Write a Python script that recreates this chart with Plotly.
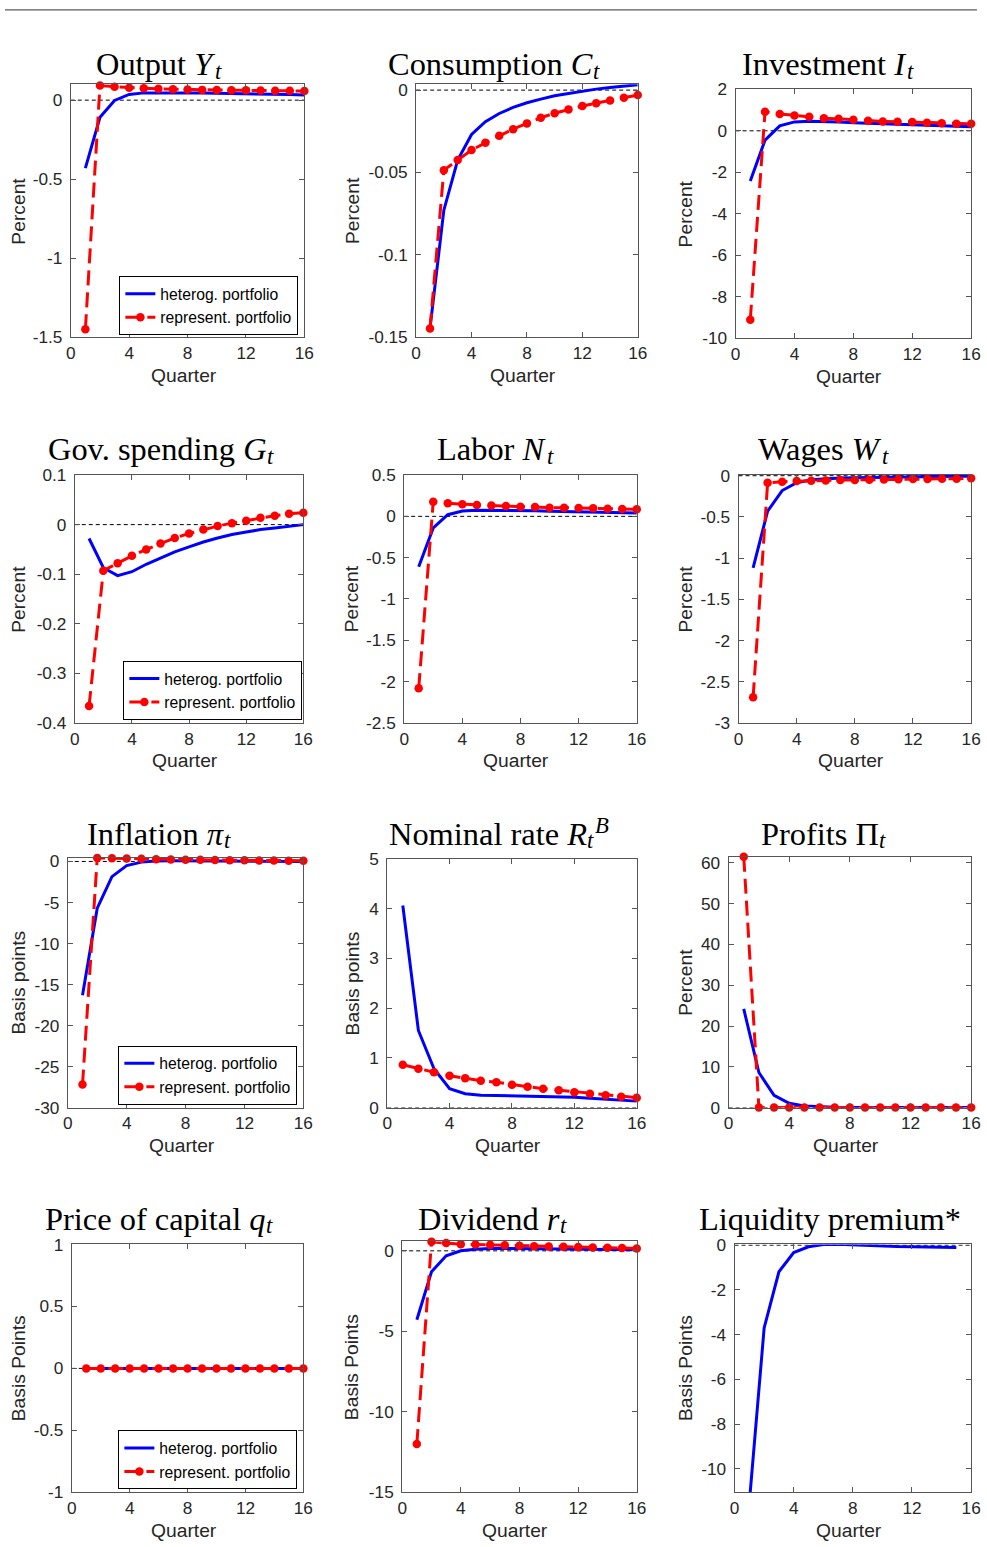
import plotly.graph_objects as go

W, H = 987, 1547
# calibration of the photographing step (observed = S * page + OFF)
SX, OX = 0.9866, 4.1
SY, OY = 0.9878, 8.6
FS = 1 / SX  # font scale compensation

quarters = list(range(1, 17))
quarters_liq = list(range(1, 16))
xticks = [0, 4, 8, 12, 16]

# ---- data ----
output_het = [-0.43, -0.108, -0.002, 0.036, 0.046, 0.047, 0.047, 0.046, 0.045, 0.044, 0.043, 0.041, 0.040, 0.038, 0.036, 0.033]
output_rep = [-1.45, 0.093, 0.085, 0.079, 0.075, 0.072, 0.069, 0.067, 0.065, 0.064, 0.063, 0.062, 0.061, 0.060, 0.059, 0.058]

cons_het = [-0.1447, -0.0729, -0.0425, -0.0269, -0.0192, -0.0142, -0.0105, -0.0077, -0.0055, -0.0034, -0.0020, -0.0006, 0.0006, 0.0016, 0.0024, 0.0033]
cons_rep = [-0.1447, -0.0486, -0.0425, -0.0364, -0.0320, -0.0277, -0.0237, -0.0202, -0.0168, -0.0140, -0.0117, -0.0097, -0.0079, -0.0063, -0.0047, -0.0030]

inv_het = [-2.42, -0.45, 0.24, 0.43, 0.46, 0.45, 0.42, 0.39, 0.36, 0.33, 0.30, 0.28, 0.26, 0.24, 0.22, 0.20]
inv_rep = [-9.11, 0.92, 0.81, 0.74, 0.68, 0.61, 0.58, 0.53, 0.48, 0.45, 0.44, 0.42, 0.39, 0.37, 0.34, 0.34]

gov_het = [-0.028, -0.087, -0.103, -0.095, -0.080, -0.067, -0.055, -0.045, -0.035, -0.027, -0.020, -0.015, -0.010, -0.007, -0.003, 0.000]
gov_rep = [-0.366, -0.093, -0.078, -0.063, -0.050, -0.038, -0.027, -0.018, -0.010, -0.003, 0.003, 0.008, 0.014, 0.018, 0.022, 0.024]

labor_het = [-0.61, -0.14, 0.02, 0.065, 0.075, 0.075, 0.073, 0.070, 0.067, 0.063, 0.060, 0.056, 0.052, 0.048, 0.044, 0.040]
labor_rep = [-2.08, 0.178, 0.158, 0.146, 0.137, 0.130, 0.125, 0.117, 0.113, 0.105, 0.105, 0.100, 0.097, 0.093, 0.089, 0.085]

wage_het = [-1.12, -0.43, -0.18, -0.085, -0.050, -0.036, -0.028, -0.024, -0.020, -0.017, -0.014, -0.012, -0.010, -0.008, -0.006, -0.005]
wage_rep = [-2.69, -0.085, -0.073, -0.065, -0.060, -0.057, -0.053, -0.052, -0.049, -0.045, -0.044, -0.041, -0.040, -0.037, -0.036, -0.030]

infl_het = [-16.3, -5.7, -1.85, -0.5, -0.08, 0.05, 0.08, 0.08, 0.07, 0.06, 0.05, 0.04, 0.03, 0.02, 0.01, 0.0]
infl_rep = [-27.2, 0.42, 0.40, 0.36, 0.32, 0.28, 0.25, 0.22, 0.20, 0.18, 0.16, 0.14, 0.13, 0.12, 0.10, 0.09]

rate_het = [4.06, 1.55, 0.78, 0.38, 0.28, 0.25, 0.245, 0.24, 0.235, 0.23, 0.22, 0.21, 0.19, 0.17, 0.15, 0.13]
rate_rep = [0.86, 0.78, 0.71, 0.64, 0.59, 0.54, 0.51, 0.46, 0.42, 0.38, 0.35, 0.31, 0.28, 0.25, 0.22, 0.20]

prof_het = [24.2, 8.6, 3.0, 1.06, 0.4, 0.15, 0.06, 0.02, 0.0, 0.0, 0.0, 0.0, 0.0, 0.0, 0.0, 0.0]
prof_rep = [61.5, 0.0, 0.0, 0.0, 0.0, 0.0, 0.0, 0.0, 0.0, 0.0, 0.0, 0.0, 0.0, 0.0, 0.0, 0.0]

price_het = [0.0] * 16
price_rep = [0.0] * 16

div_het = [-4.28, -1.30, -0.31, 0.0, 0.10, 0.145, 0.14, 0.13, 0.12, 0.11, 0.10, 0.09, 0.08, 0.07, 0.065, 0.06]
div_rep = [-12.0, 0.56, 0.48, 0.41, 0.39, 0.37, 0.35, 0.31, 0.29, 0.27, 0.25, 0.23, 0.21, 0.19, 0.17, 0.15]

liq_het = [-11.5, -3.7, -1.19, -0.33, -0.07, 0.03, 0.045, 0.015, -0.03, -0.05, -0.06, -0.07, -0.08, -0.09, -0.10]

# titles: main part, subscript, superscript
title_main = [
    "Output <i>Y</i>", "Consumption <i>C</i>", "Investment <i>I</i>",
    "Gov. spending <i>G</i>", "Labor <i>N</i>", "Wages <i>W</i>",
    "Inflation <i>π</i>", "Nominal rate <i>R</i>", "Profits Π",
    "Price of capital <i>q</i>", "Dividend <i>r</i>", "Liquidity premium*",
]
title_sub = ["t", "t", "t", "t", "t", "t", "t", "t", "t", "t", "t", None]
title_sup = [None, None, None, None, None, None, None, "B", None, None, None, None]
ylabels = ["Percent", "Percent", "Percent",
           "Percent", "Percent", "Percent",
           "Basis points", "Basis points", "Percent",
           "Basis Points", "Basis Points", "Basis Points"]
xlabel = "Quarter"

yranges = [[-1.5, 0.1], [-0.15, 0.0035], [-10, 2],
           [-0.4, 0.1], [-2.5, 0.5], [-3, 0.008],
           [-30, 0.45], [0, 5], [0, 61.5],
           [-1, 1], [-15, 0.58], [-11.05, 0.03]]
yticks = [[-1.5, -1, -0.5, 0], [-0.15, -0.1, -0.05, 0], [-10, -8, -6, -4, -2, 0, 2],
          [-0.4, -0.3, -0.2, -0.1, 0, 0.1], [-2.5, -2, -1.5, -1, -0.5, 0, 0.5], [-3, -2.5, -2, -1.5, -1, -0.5, 0],
          [-30, -25, -20, -15, -10, -5, 0], [0, 1, 2, 3, 4, 5], [0, 10, 20, 30, 40, 50, 60],
          [-1, -0.5, 0, 0.5, 1], [-15, -10, -5, 0], [-10, -8, -6, -4, -2, 0]]

het_series = [output_het, cons_het, inv_het, gov_het, labor_het, wage_het,
              infl_het, rate_het, prof_het, price_het, div_het, liq_het]
rep_series = [output_rep, cons_rep, inv_rep, gov_rep, labor_rep, wage_rep,
              infl_rep, rate_rep, prof_rep, price_rep, div_rep, None]

legend_names = ["heterog. portfolio", "represent. portfolio"]

# ---- layout geometry (target pixels: left, right, top, bottom) ----
boxes = [(70, 304, 83, 336), (416, 638, 83, 336), (736, 972, 88, 337),
         (74, 303, 474, 722), (404, 637, 474, 722), (739, 972, 474, 722),
         (67, 303, 857, 1107), (387, 637, 858, 1107), (729, 972, 856, 1107),
         (71, 303, 1244, 1492), (402, 637, 1241, 1492), (735, 972, 1244, 1492)]
title_right = [214, 593, 908, 267, 547, 883, 223, 587, 880, 266, 560, None]
col_centers = [162, 496, 830]
ylabel_x = [18, 352, 686]
row_title_y = [62, 447, 832, 1217]
legend_panels = {0: ("legend", 298, 334), 3: ("legend2", 302, 719),
                 6: ("legend3", 297, 1104), 9: ("legend4", 297, 1489)}

TXT = "#262626"
AX = "#555555"
SANS = "Liberation Sans"
SERIF = "Liberation Serif"
TITLE_SIZE = 32 * FS
SCRIPT_SIZE = 0.7 * TITLE_SIZE

fig = go.Figure()
layout = dict(width=W, height=H, margin=dict(l=0, r=0, t=0, b=0), autosize=False,
              paper_bgcolor="white", plot_bgcolor="white", showlegend=True)
annotations = []
shapes = []

def px_x(p):
    return ((p - OX) / SX) / W

def px_y(p):
    return 1 - ((p - OY) / SY) / H

def text_ann(text, x, y, size, family=SERIF, color="black", xanchor="center", angle=0, style="normal"):
    return dict(text=text, x=px_x(x), y=px_y(y), xref="paper", yref="paper",
                showarrow=False, xanchor=xanchor, yanchor="middle", textangle=angle,
                borderpad=0, borderwidth=0,
                font=dict(family=family, size=size, color=color, style=style))

for i in range(12):
    n = "" if i == 0 else str(i + 1)
    l, r, t, b = boxes[i]
    xa = dict(domain=[px_x(l), px_x(r)], range=[0, 16], tickvals=xticks,
              ticktext=[str(v) for v in xticks], anchor="y" + n,
              ticks="inside", ticklen=5, tickcolor=AX, showline=True, linecolor=AX,
              linewidth=1, mirror="ticks", showgrid=False, zeroline=False,
              tickfont=dict(family=SANS, size=17 * FS, color=TXT), ticklabelstandoff=0)
    ya = dict(domain=[px_y(b), px_y(t)], range=yranges[i], tickvals=yticks[i],
              ticktext=[f"{v:g}" for v in yticks[i]], anchor="x" + n,
              ticks="inside", ticklen=5, tickcolor=AX, showline=True, linecolor=AX,
              linewidth=1, mirror="ticks", showgrid=False, zeroline=False,
              tickfont=dict(family=SANS, size=17 * FS, color=TXT), ticklabelstandoff=4)
    layout["xaxis" + n] = xa
    layout["yaxis" + n] = ya

    # zero reference line
    shapes.append(dict(type="line", xref="x" + n + " domain", yref="y" + n,
                       x0=0, x1=1, y0=0, y1=0, layer="below",
                       line=dict(color="black", width=1, dash="4px,3px")))

    lg = legend_panels.get(i)
    het = het_series[i]
    xs = quarters if len(het) == 16 else quarters_liq
    fig.add_trace(go.Scatter(
        x=xs, y=het, mode="lines", name=legend_names[0],
        line=dict(color="#0000ff", width=3),
        xaxis="x" + n, yaxis="y" + n,
        showlegend=lg is not None, legend=lg[0] if lg else "legend"))
    rep = rep_series[i]
    if rep is not None:
        fig.add_trace(go.Scatter(
            x=quarters, y=rep, mode="lines+markers", name=legend_names[1],
            line=dict(color="#ff0000", width=3, dash="15px,7px"),
            marker=dict(color="#ff0000", size=8.5, symbol="circle"),
            cliponaxis=False,
            xaxis="x" + n, yaxis="y" + n,
            showlegend=lg is not None, legend=lg[0] if lg else "legend"))

    row, col = divmod(i, 3)
    ty = row_title_y[row]
    if title_right[i] is None:
        annotations.append(text_ann(title_main[i], col_centers[col] + 1, ty + 1, TITLE_SIZE))
    else:
        R = title_right[i]
        annotations.append(text_ann(title_main[i], R, ty + 1, TITLE_SIZE, xanchor="right"))
        if title_sub[i]:
            annotations.append(text_ann(title_sub[i], R, ty + 8, SCRIPT_SIZE,
                                        xanchor="left", style="italic"))
        if title_sup[i]:
            annotations.append(text_ann(title_sup[i], R + 8, ty - 7, SCRIPT_SIZE,
                                        xanchor="left", style="italic"))
    annotations.append(text_ann(ylabels[i], ylabel_x[col], (t + b) / 2, 19 * FS,
                                family=SANS, color=TXT, angle=-90))
    annotations.append(text_ann(xlabel, (l + r) / 2 - 4, b + 38, 19 * FS,
                                family=SANS, color=TXT))

for i, (key, rx, by) in legend_panels.items():
    layout[key] = dict(x=px_x(rx), y=px_y(by), xanchor="right", yanchor="bottom",
                       xref="paper", yref="paper",
                       bgcolor="white", bordercolor="black", borderwidth=1,
                       font=dict(family=SANS, size=15.5 * FS, color="black"),
                       tracegroupgap=0, itemwidth=30)

# top rule of the page
shapes.append(dict(type="line", xref="paper", yref="paper", x0=0, x1=1,
                   y0=px_y(8.5), y1=px_y(8.5), line=dict(color="#333333", width=1)))

layout["annotations"] = annotations
layout["shapes"] = shapes
fig.update_layout(**layout)
fig.write_html(
    "out.html",
    config={"displayModeBar": False},
    post_script="document.body.style.margin='0';document.body.style.padding='0';"
                "document.documentElement.style.overflow='hidden';",
)
